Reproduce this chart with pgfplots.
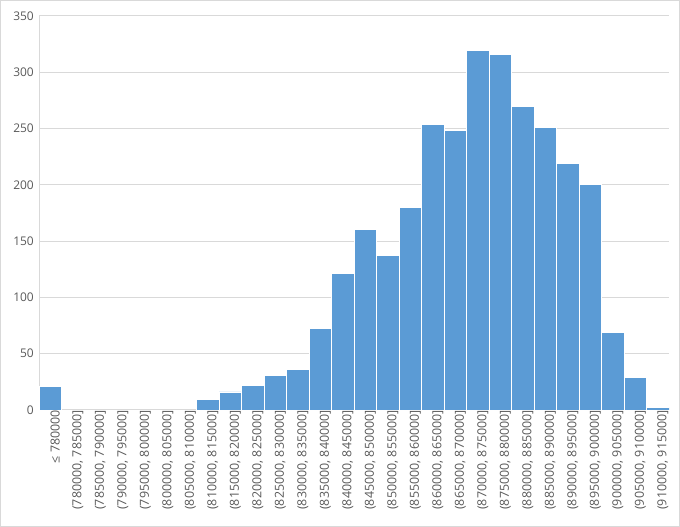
\documentclass[border=0pt]{standalone}
\usepackage{pgfplots}
\pgfplotsset{compat=1.18}
\usepackage{fontspec}
\setmainfont{Open Sans}
\definecolor{barblue}{HTML}{5B9BD5}
\definecolor{gridgray}{HTML}{D9D9D9}
\definecolor{txtgray}{HTML}{595959}
\begin{document}
\begin{tikzpicture}[x=1bp,y=1bp]
\fontsize{12}{14}\selectfont
\path[use as bounding box] (0,0) rectangle (680,527);
\draw[gridgray, line width=1bp] (0.5,0.5) rectangle (679.5,526.5);
\begin{axis}[
  at={(39bp,117bp)}, anchor=south west,
  scale only axis, width=630bp, height=394bp,
  xmin=-0.5, xmax=27.5, ymin=0, ymax=350,
  ytick distance=50,
  xtick={0,...,27},
  xticklabels={{≤ 780000},{(780000, 785000]},{(785000, 790000]},{(790000, 795000]},{(795000, 800000]},{(800000, 805000]},{(805000, 810000]},{(810000, 815000]},{(815000, 820000]},{(820000, 825000]},{(825000, 830000]},{(830000, 835000]},{(835000, 840000]},{(840000, 845000]},{(845000, 850000]},{(850000, 855000]},{(855000, 860000]},{(860000, 865000]},{(865000, 870000]},{(870000, 875000]},{(875000, 880000]},{(880000, 885000]},{(885000, 890000]},{(890000, 895000]},{(895000, 900000]},{(900000, 905000]},{(905000, 910000]},{(910000, 915000]}},
  xticklabel style={rotate=90, anchor=east, font=\fontsize{12.5}{14}\selectfont, text=txtgray, yshift=-5bp, inner sep=0pt},
  yticklabel style={font=\fontsize{12}{14}\selectfont, text=txtgray, xshift=-5bp, inner sep=0pt},
  /pgf/number format/assume math mode=true,
  axis x line*=bottom, axis y line*=left,
  axis line style={gridgray, line width=1bp, -},
  major tick length=0pt,
  ymajorgrids, grid style={gridgray, line width=1bp},
  ybar, bar width=1, bar shift=0pt,
]
\addplot[fill=barblue, draw=white, line width=0.9bp] coordinates {
(0,21) (7,9) (8,16) (9,22) (10,31) (11,36) (12,72) (13,121) (14,160) (15,137)
(16,180) (17,254) (18,248) (19,319) (20,316) (21,270) (22,251) (23,219) (24,200)
(25,69) (26,29) (27,2)
};
\end{axis}
\end{tikzpicture}
\end{document}
